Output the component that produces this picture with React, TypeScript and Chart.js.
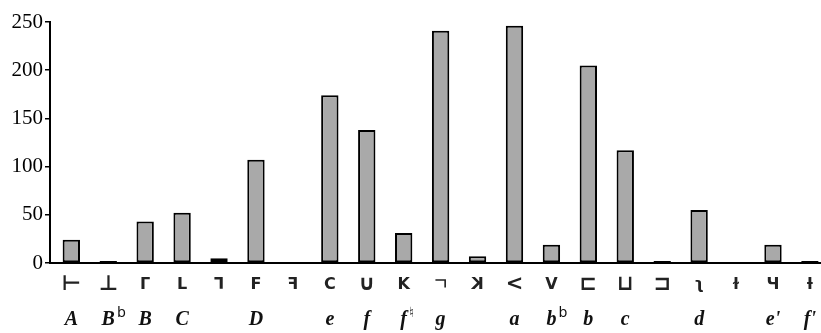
import React, { useEffect, useRef } from "react";
import { Chart, registerables } from "chart.js";

Chart.register(...registerables);

// Notation symbols (first label row); "mirrored" marks glyphs drawn reversed
const symbols = ["⊢", "⊥", "Γ", "L", "⅂", "F", "F", "C", "∪", "K", "ㄱ", "K", "<", "V", "⊏", "⊔", "⊐", "ʅ", "ɫ", "Ч", "ƚ"];
const mirrored = [false, false, false, false, false, false, true, false, false, false, false, true, false, false, false, false, false, false, false, false, false];
// Pitch names (second label row) with optional superscripts
const pitchNames = ["A", "B", "B", "C", "", "D", "", "e", "f", "f", "g", "", "a", "b", "b", "c", "", "d", "", "e'", "f'"];
const pitchSups = ["", "b", "", "", "", "", "", "", "", "♮", "", "", "", "b", "", "", "", "", "", "", ""];
// Counts
const counts = [24, 2, 43, 52, 5, 107, 0, 174, 138, 31, 241, 7, 246, 19, 205, 117, 2, 55, 0, 19, 2];
const yTicks = [0, 50, 100, 150, 200, 250];

const mathGlyphs = "⊢⊥∪⊏⊔⊐<";

const labelPlugin = {
  id: "twoRowLabels",
  afterDraw(chart: any) {
    const ctx = chart.ctx;
    const xs = chart.scales.x;
    ctx.save();
    ctx.textBaseline = "middle";
    symbols.forEach((s, i) => {
      const x = xs.getPixelForValue(i);
      ctx.fillStyle = "#222";
      ctx.font = mathGlyphs.includes(s) ? '600 21px "DejaVu Sans"' : '600 16px "DejaVu Sans"';
      ctx.textAlign = "center";
      if (mirrored[i]) {
        ctx.save();
        ctx.translate(x, 285);
        ctx.scale(-1, 1);
        ctx.fillText(s, 0, 0);
        ctx.restore();
      } else {
        ctx.fillText(s, x, 285);
      }
      const name = pitchNames[i];
      if (name) {
        ctx.font = 'italic 600 20px "Liberation Serif"';
        ctx.textAlign = "center";
        ctx.fillStyle = "#111";
        ctx.fillText(name, x, 320);
        const w = ctx.measureText(name).width;
        const sup = pitchSups[i];
        if (sup) {
          ctx.font = '14px "DejaVu Sans"';
          ctx.textAlign = "left";
          ctx.fillText(sup, x + w / 2 + 2, 313);
        }
      }
    });
    ctx.restore();
  },
};

export default function App() {
  const ref = useRef<HTMLCanvasElement>(null);
  useEffect(() => {
    if (!ref.current) return;
    const chart = new Chart(ref.current, {
      type: "bar",
      data: {
        datasets: [
          {
            data: counts.map((v, i) => ({ x: i, y: v })),
            backgroundColor: "#a9a9a9",
            borderColor: "#000",
            borderWidth: 2,
            borderSkipped: false,
            barPercentage: 0.47,
            categoryPercentage: 1,
          },
        ],
      },
      options: {
        animation: false,
        responsive: false,
        devicePixelRatio: 1,
        layout: { padding: { top: 22, right: 0, left: 0, bottom: 0 } },
        plugins: { legend: { display: false }, tooltip: { enabled: false } },
        scales: {
          x: {
            type: "linear",
            offset: false,
            min: -0.577,
            max: 20.3,
            ticks: { display: false },
            grid: { display: false, offset: false },
            border: { display: true, color: "#000", width: 2 },
            afterFit: (s: any) => {
              s.height = 70;
            },
          },
          y: {
            min: 0,
            max: 250,
            afterBuildTicks: (s: any) => {
              s.ticks = yTicks.map((v) => ({ value: v }));
            },
            ticks: {
              color: "#000",
              font: { family: '"Liberation Serif"', size: 21 },
              padding: 2,
            },
            grid: {
              drawOnChartArea: false,
              drawTicks: true,
              tickLength: 5,
              color: "#000",
              lineWidth: 1.5,
            },
            border: { display: true, color: "#000", width: 2 },
            afterFit: (s: any) => {
              s.width = 50;
            },
          },
        },
      },
      plugins: [labelPlugin],
    });
    return () => chart.destroy();
  }, []);
  return (
    <div style={{ position: "fixed", left: 0, top: 0, width: 821, height: 333, overflow: "hidden", background: "#fff" }}>
      <canvas ref={ref} width={821} height={333} style={{ display: "block" }} />
    </div>
  );
}
